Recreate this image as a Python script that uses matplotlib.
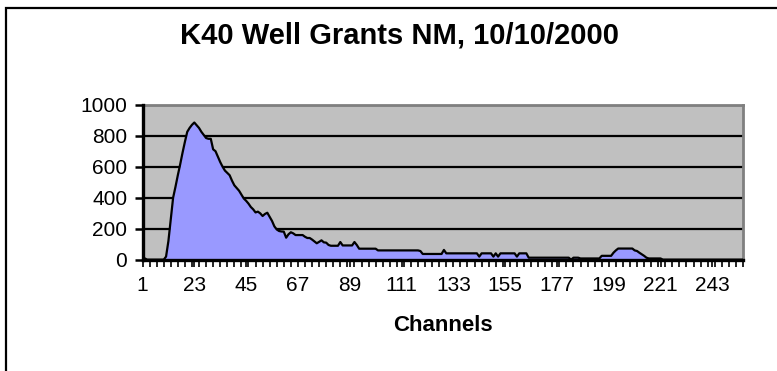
import numpy as np
import matplotlib
matplotlib.use("Agg")
import matplotlib.pyplot as plt
from matplotlib.ticker import MultipleLocator
from matplotlib.patches import Rectangle

plt.rcParams['font.family'] = ['Liberation Sans', 'DejaVu Sans']

# counts per channel, channels 1..256
counts = [
    15, 8, 0, 0, 0, 0, 0, 0, 0, 0,
    20, 120, 260, 400, 470, 545, 615, 690, 760, 825,
    850, 870, 885, 868, 850, 825, 805, 785, 780, 780,
    712, 700, 665, 630, 600, 575, 560, 545, 510, 480,
    462, 445, 420, 395, 380, 362, 340, 325, 305, 310,
    299, 282, 295, 303, 277, 250, 215, 195, 185, 182,
    181, 142, 164, 177, 170, 159, 159, 159, 159, 148,
    140, 140, 130, 118, 106, 115, 125, 112, 110, 95,
    90, 90, 90, 90, 114, 92, 92, 92, 92, 92,
    114, 95, 71, 71, 71, 71, 71, 71, 71, 71,
    60, 60, 60, 60, 60, 60, 60, 60, 60, 60,
    60, 60, 60, 60, 60, 60, 60, 60, 56, 37,
    37, 37, 37, 37, 37, 37, 37, 37, 63, 41,
    41, 41, 41, 41, 41, 41, 41, 41, 41, 41,
    41, 41, 41, 20, 41, 41, 41, 41, 41, 20,
    41, 20, 41, 41, 41, 41, 41, 41, 41, 20,
    41, 41, 41, 41, 13, 13, 13, 13, 13, 13,
    13, 13, 13, 13, 13, 13, 13, 13, 13, 13,
    13, 13, 0, 13, 13, 13, 8, 8, 8, 8,
    8, 8, 8, 8, 8, 25, 25, 25, 25, 25,
    45, 60, 72, 72, 72, 72, 72, 72, 72, 60,
    56, 45, 35, 25, 13, 8, 8, 8, 8, 8,
    8, 0, 0, 0, 0, 0, 0, 0, 0, 0,
    0, 0, 0, 0, 0, 0, 0, 0, 0, 0,
    0, 0, 0, 0, 0, 0, 0, 0, 0, 0,
    0, 0, 0, 0, 0, 0,
]
channels = np.arange(1, len(counts) + 1)
label_ticks = list(range(1, 257, 22))
y_ticks = [0, 200, 400, 600, 800, 1000]

W, H = 777, 371
fig = plt.figure(figsize=(W / 100, H / 100), dpi=100)

# chart frame (runs off the right/bottom edge)
fig.patches.append(Rectangle((6 / W, -0.2), 1.2, 1 - 8 / H + 0.2,
                             transform=fig.transFigure, fill=False,
                             edgecolor='black', lw=1.6))

left, right, top, bottom = 142.5, 743, 104.7, 259.7
ax = fig.add_axes([left / W, 1 - bottom / H, (right - left) / W, (bottom - top) / H])
ax.set_facecolor('#C0C0C0')

ax.fill_between(channels, counts, color='#9999FF', lw=0, zorder=2)
ax.plot(channels, counts, color='black', lw=1.6, zorder=3)

ax.set_xlim(1, 256)
ax.set_ylim(0, 1000)

ax.set_yticks(y_ticks)
ax.yaxis.grid(True, color='black', lw=1.6)
ax.set_axisbelow(True)

ax.set_xticks(label_ticks)
ax.xaxis.set_minor_locator(MultipleLocator(3, offset=1))

for s in ['left', 'bottom']:
    ax.spines[s].set_color('black')
    ax.spines[s].set_linewidth(2.4)
    ax.spines[s].set_zorder(4)
for s in ['top', 'right']:
    ax.spines[s].set_color('#808080')
    ax.spines[s].set_linewidth(2)

ax.tick_params(axis='y', length=6, width=1.8, labelsize=15, pad=5)
ax.tick_params(axis='x', which='both', length=5, width=1.2, labelsize=15, pad=7)

ax.set_xlabel('Channels', fontsize=16, fontweight='bold', labelpad=14)
fig.text(399 / W, 1 - 36 / H, 'K40 Well Grants NM, 10/10/2000',
         ha='center', va='center', fontsize=21, fontweight='bold')

fig.savefig('out.png', dpi=100)
